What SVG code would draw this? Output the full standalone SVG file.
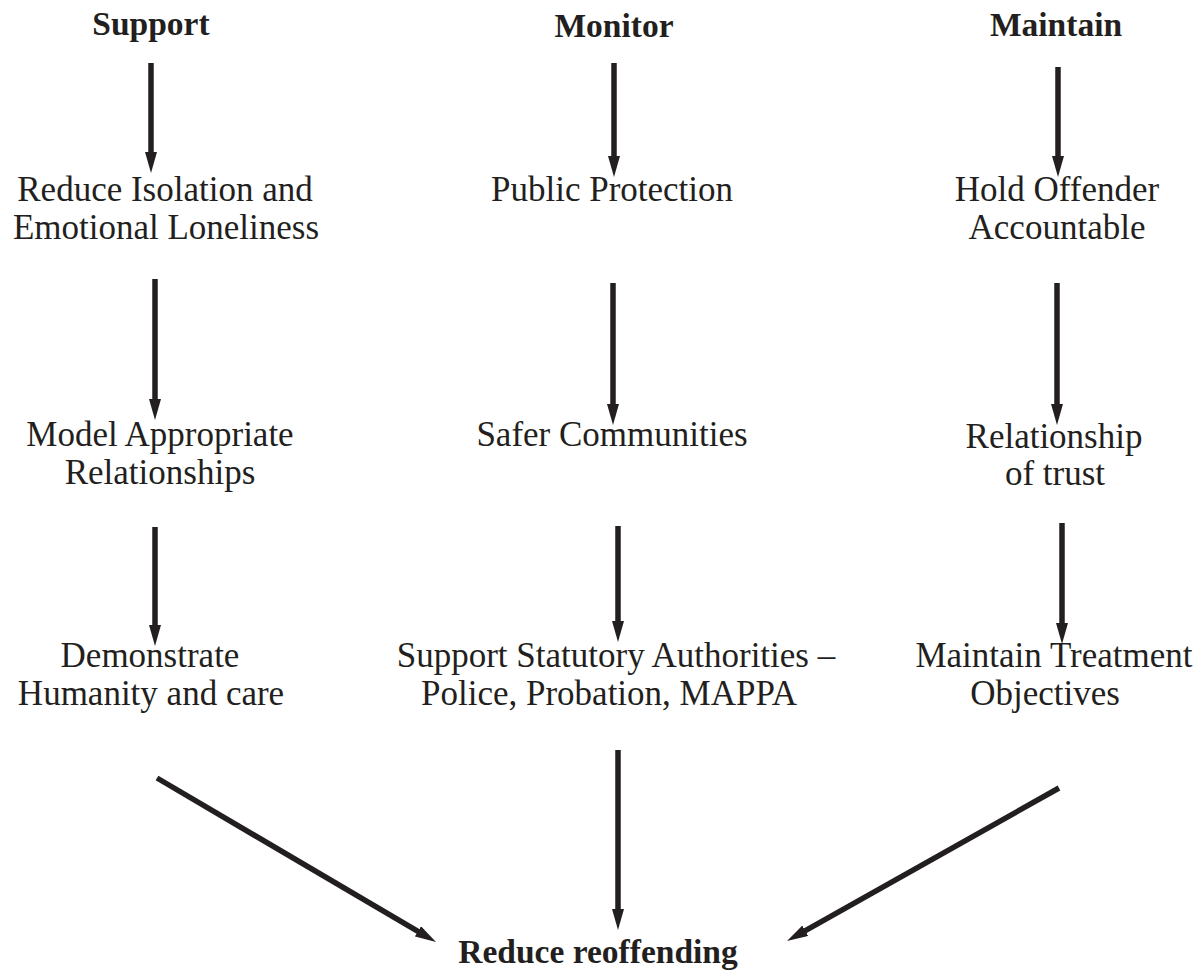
<svg xmlns="http://www.w3.org/2000/svg" width="1204" height="972" viewBox="0 0 1204 972">
<style>
.t{font-family:"Liberation Serif","Times New Roman",serif;font-size:35px;fill:#231f20;text-anchor:middle}
.h{font-family:"Liberation Serif","Times New Roman",serif;font-size:33.5px;font-weight:bold;fill:#231f20;text-anchor:middle}
.c line{stroke:#231f20;stroke-width:5.5;marker-end:url(#ah)}
</style>
<defs>
<marker id="ah" markerUnits="userSpaceOnUse" markerWidth="22" markerHeight="12" refX="3" refY="6" orient="auto" viewBox="0 0 22 12">
<path d="M0,0 L21,6 L0,12 z" fill="#231f20"/>
</marker>
</defs>
<rect width="1204" height="972" fill="#ffffff"/>
<g class="c" id="connectors">
<line x1="151" y1="63" x2="151" y2="155"/>
<line x1="155" y1="279" x2="155" y2="402"/>
<line x1="155" y1="527" x2="155" y2="628"/>
<line x1="614" y1="63" x2="614" y2="159"/>
<line x1="613" y1="283" x2="613" y2="407"/>
<line x1="618" y1="526" x2="618" y2="624"/>
<line x1="1058" y1="67" x2="1058" y2="159"/>
<line x1="1057" y1="283" x2="1057" y2="407"/>
<line x1="1062" y1="523" x2="1062" y2="626"/>
<line x1="157" y1="778" x2="420.5" y2="932.9"/>
<line x1="618" y1="750" x2="618" y2="912"/>
<line x1="1059" y1="788" x2="802.7" y2="932.2"/>
</g>
<g id="support"><text class="h" x="151" y="35">Support</text></g>
<g id="monitor"><text class="h" x="614" y="37">Monitor</text></g>
<g id="maintain"><text class="h" x="1056" y="36">Maintain</text></g>
<g id="reduce-isolation"><text class="t" x="165" y="201">Reduce Isolation and</text><text class="t" x="166" y="239">Emotional Loneliness</text></g>
<g id="model-relationships"><text class="t" x="160" y="446">Model Appropriate</text><text class="t" x="160" y="484">Relationships</text></g>
<g id="demonstrate"><text class="t" x="150" y="667">Demonstrate</text><text class="t" x="151" y="705">Humanity and care</text></g>
<g id="public-protection"><text class="t" x="612" y="201">Public Protection</text></g>
<g id="safer-communities"><text class="t" x="612" y="446">Safer Communities</text></g>
<g id="support-authorities"><text class="t" x="616" y="667">Support Statutory Authorities –</text><text class="t" x="609" y="705">Police, Probation, MAPPA</text></g>
<g id="hold-accountable"><text class="t" x="1057" y="201">Hold Offender</text><text class="t" x="1057" y="239">Accountable</text></g>
<g id="relationship-trust"><text class="t" x="1054" y="448">Relationship</text><text class="t" x="1055" y="485">of trust</text></g>
<g id="treatment-objectives"><text class="t" x="1054" y="667">Maintain Treatment</text><text class="t" x="1045" y="705">Objectives</text></g>
<g id="reduce-reoffending"><text class="h" x="598" y="963">Reduce reoffending</text></g>
</svg>
